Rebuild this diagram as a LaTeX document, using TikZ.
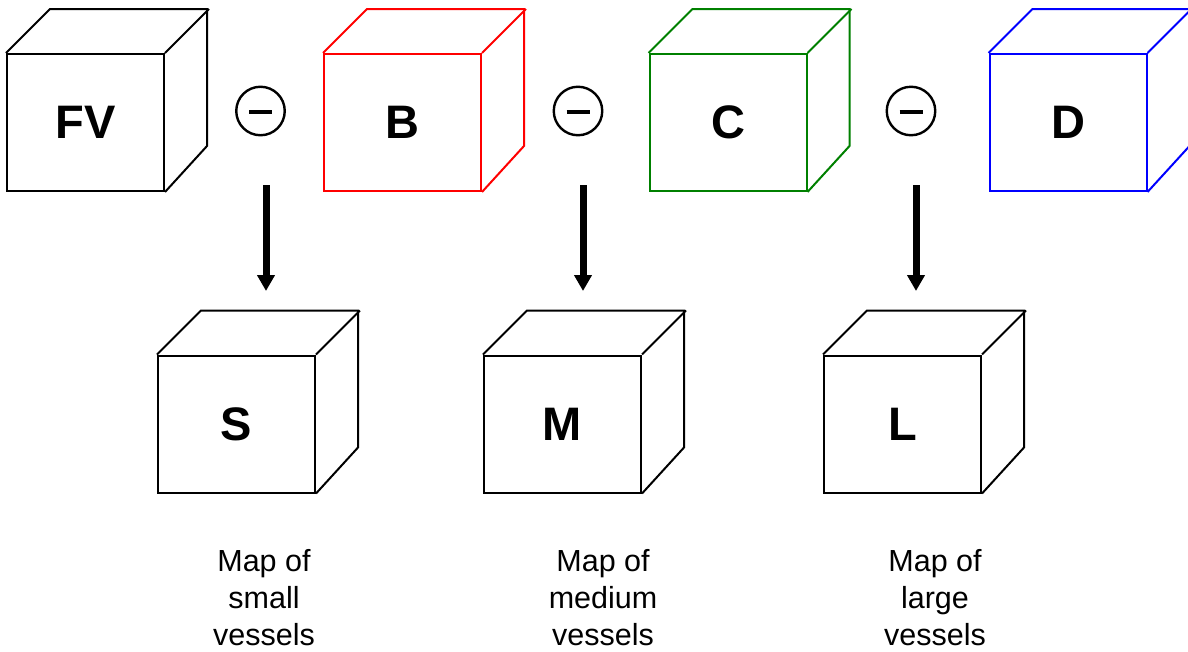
\documentclass[tikz,border=0pt]{standalone}
\usepackage{fontspec}
\setmainfont{Liberation Sans}
\usetikzlibrary{arrows.meta}
\definecolor{cubered}{RGB}{255,0,0}
\definecolor{cubegreen}{RGB}{0,128,0}
\definecolor{cubeblue}{RGB}{0,0,255}
\tikzset{
  front/.style={draw, line width=2pt, minimum width=157pt, minimum height=137pt, inner sep=0pt,
    font=\fontsize{47}{50}\selectfont\bfseries, text=black},
  edges/.style={line width=2pt, line join=miter},
  minuscirc/.style={circle, draw, line width=2.4pt, minimum size=48.5pt, inner sep=0pt},
  minusbar/.style={line width=3.5pt},
  bigarrow/.style={line width=7pt, -{Triangle[width=17pt,length=16pt]}},
  maplabel/.style={align=center, inner sep=0pt, font=\fontsize{30.5}{37}\selectfont}
}
\newcommand\cubefaces[2]{%
  \draw[edges,#2] (#1.north west) -- ++(44,-44) -- ++(157,0) -- ++(0,137) -- (#1.south east);
  \draw[edges,#2] (#1.north east) -- ++(44,-44);
}
\begin{document}
\begin{tikzpicture}[x=1pt,y=-1pt]
\useasboundingbox (0,0) rectangle (1188,651);
\clip (0,0) rectangle (1188,651);
% top row
\node[front] (fv) at (85.5,122.5) {FV};
\cubefaces{fv}{black}
\node[front, draw=cubered] (b) at (402.5,122.5) {B};
\cubefaces{b}{cubered}
\node[front, draw=cubegreen] (c) at (728,122.5) {C};
\cubefaces{c}{cubegreen}
\node[front, draw=cubeblue] (d) at (1068,122.5) {D};
\cubefaces{d}{cubeblue}
% minus signs
\node[minuscirc] (m1) at (260.5,111) {};
\draw[minusbar] ([xshift=-11.5pt,yshift=-1pt]m1.center) -- ([xshift=11.5pt,yshift=-1pt]m1.center);
\node[minuscirc] (m2) at (578,111) {};
\draw[minusbar] ([xshift=-11.5pt,yshift=-1pt]m2.center) -- ([xshift=11.5pt,yshift=-1pt]m2.center);
\node[minuscirc] (m3) at (911,111) {};
\draw[minusbar] ([xshift=-11.5pt,yshift=-1pt]m3.center) -- ([xshift=11.5pt,yshift=-1pt]m3.center);
% arrows
\coordinate (a1s) at (266,185); \coordinate (a1e) at (266,291);
\coordinate (a2s) at (583,185); \coordinate (a2e) at (583,291);
\coordinate (a3s) at (916,185); \coordinate (a3e) at (916,291);
\draw[bigarrow] (a1s) -- (a1e);
\draw[bigarrow] (a2s) -- (a2e);
\draw[bigarrow] (a3s) -- (a3e);
% bottom row
\node[front] (s) at (236.5,424) {S};
\cubefaces{s}{black}
\node[front] (m) at (562.5,424) {M};
\cubefaces{m}{black}
\node[front] (l) at (902.5,424) {L};
\cubefaces{l}{black}
% labels
\node[maplabel] (ls) at (264,598) {Map of\\small\\vessels};
\node[maplabel] (lm) at (603,598) {Map of\\medium\\vessels};
\node[maplabel] (ll) at (935,598) {Map of\\large\\vessels};
\end{tikzpicture}
\end{document}
